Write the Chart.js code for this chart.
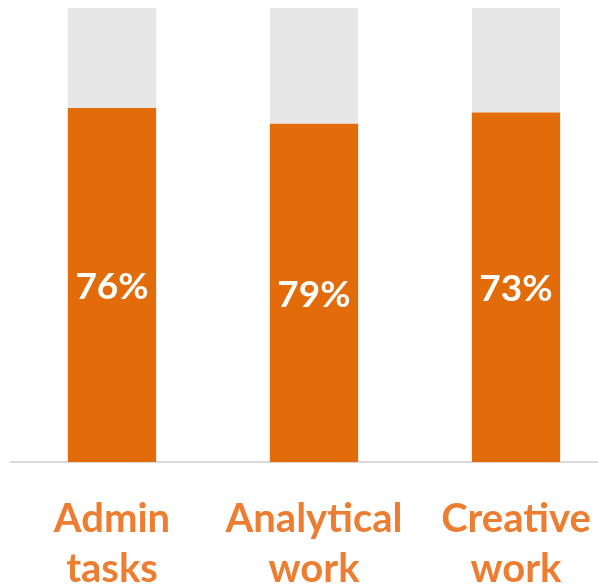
<!DOCTYPE html>
<html>
<head>
<meta charset="utf-8">
<script src="https://cdn.jsdelivr.net/npm/chart.js@4.4.1/dist/chart.umd.min.js"></script>
<style>
  html, body { margin: 0; padding: 0; background: #ffffff; overflow: hidden; }
  #wrap { width: 598px; height: 586px; overflow: hidden; position: relative; }
  canvas { display: block; }
</style>
</head>
<body>
<div id="wrap"><canvas id="c" width="623" height="626"></canvas></div>
<script>
const categories = [["Admin", "tasks"], ["Analytical", "work"], ["Creative", "work"]];
const shareValues = [78, 74.5, 77];
const shareLabels = ["76%", "79%", "73%"];
const totalValue = 100;

const remainderValues = shareValues.map(v => totalValue - v);

const barLabelPlugin = {
  id: 'barLabels',
  afterDatasetsDraw(chart) {
    const ctx = chart.ctx;
    const meta = chart.getDatasetMeta(0);
    ctx.save();
    ctx.fillStyle = '#ffffff';
    ctx.font = 'bold 37px Lato';
    ctx.textAlign = 'center';
    ctx.textBaseline = 'middle';
    meta.data.forEach((bar, i) => {
      const y = (bar.y + bar.base) / 2 + 2;
      ctx.fillText(shareLabels[i], bar.x, y);
    });
    ctx.restore();
  }
};

new Chart(document.getElementById('c'), {
  type: 'bar',
  data: {
    labels: categories,
    datasets: [
      {
        data: shareValues,
        backgroundColor: '#E36C0A',
        barPercentage: 0.437,
        categoryPercentage: 1.0
      },
      {
        data: remainderValues,
        backgroundColor: '#E7E7E7',
        barPercentage: 0.437,
        categoryPercentage: 1.0
      }
    ]
  },
  options: {
    responsive: false,
    animation: false,
    layout: { padding: { left: 11, right: 1, top: 8, bottom: 0 } },
    plugins: { legend: { display: false }, tooltip: { enabled: false } },
    scales: {
      x: {
        stacked: true,
        grid: { display: false, drawTicks: false },
        border: { display: true, color: '#D9D9D9', width: 2 },
        ticks: {
          color: '#ED7D31',
          padding: 32,
          font: { family: 'Lato', size: 40, weight: 'bold', lineHeight: 1.25 }
        }
      },
      y: {
        stacked: true,
        display: false,
        min: 0,
        max: totalValue
      }
    }
  },
  plugins: [barLabelPlugin]
});
</script>
</body>
</html>
